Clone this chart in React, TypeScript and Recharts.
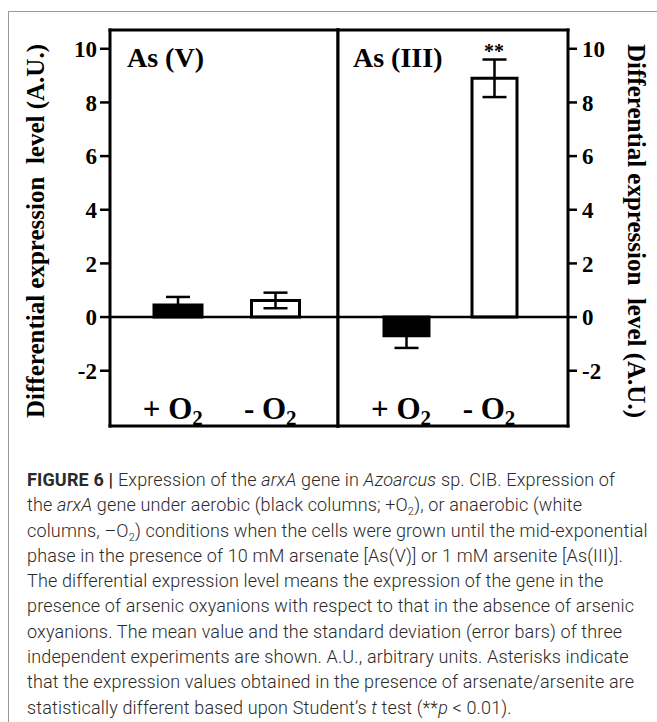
import React from 'react'
import {
  BarChart,
  Bar,
  Cell,
  ErrorBar,
  XAxis,
  YAxis,
  ReferenceLine,
  ReferenceDot,
} from 'recharts'

const categories = ['+ O', '- O']
const asVValues = [0.45, 0.62]
const asVErrors = [0.3, 0.29]
const asIIIValues = [-0.7, 8.9]
const asIIIErrors = [0.45, 0.7]
const barFills = ['#000', '#fff']
const yTicks = [-2, 0, 2, 4, 6, 8, 10]
const yDomain = [-4.06, 10.7]
const yTitle = 'Differential expression\u00a0\u00a0level (A.U.)'

const sub = (k: string) => (
  <span key={k} style={{ fontSize: 11, position: 'relative', top: 4, lineHeight: 0 }}>2</span>
)

const captionLines = [
  [<b key="f" style={{ fontWeight: 700 }}>FIGURE 6 | </b>, 'Expression of the ', <i key="a">arxA</i>, ' gene in ', <i key="b">Azoarcus</i>, ' sp. CIB. Expression of'],
  ['the ', <i key="a">arxA</i>, ' gene under aerobic (black columns; +O', sub('s'), '), or anaerobic (white'],
  ['columns, \u2013O', sub('s'), ') conditions when the cells were grown until the mid-exponential'],
  ['phase in the presence of 10 mM arsenate [As(V)] or 1 mM arsenite [As(III)].'],
  ['The differential expression level means the expression of the gene in the'],
  ['presence of arsenic oxyanions with respect to that in the absence of arsenic'],
  ['oxyanions. The mean value and the standard deviation (error bars) of three'],
  ['independent experiments are shown. A.U., arbitrary units. Asterisks indicate'],
  ['that the expression values obtained in the presence of arsenate/arsenite are'],
  ['statistically different based upon Student\u2019s ', <i key="t">t</i>, ' test (**', <i key="p">p</i>, ' < 0.01).'],
]

const serif = "'Liberation Serif', 'Times New Roman', serif"
const frame = { stroke: '#000', strokeWidth: 3, strokeLinecap: 'square' as const }

const asV = categories.map((name, i) => ({ name, value: asVValues[i], err: asVErrors[i] }))
const asIII = categories.map((name, i) => ({ name, value: asIIIValues[i], err: asIIIErrors[i] }))

function CondTick({ x, payload }: any) {
  return (
    <text x={x - 5} y={419} textAnchor="middle" fontFamily={serif} fontWeight="bold" fontSize={31} fill="#000">
      {payload.value}
      <tspan fontSize={21} dy={6}>2</tspan>
    </text>
  )
}

const tickStyle = { fontFamily: serif, fontWeight: 'bold', fontSize: 23, fill: '#000' }

function Panel({ data, width, margin, side, barSize, padding, title, stars }: any) {
  const left = side === 'left'
  return (
    <BarChart width={width} height={440} data={data} margin={margin} barCategoryGap={0}>
      <XAxis
        dataKey="name"
        axisLine={frame}
        tickLine={false}
        tickSize={0}
        tickMargin={0}
        height={1}
        padding={padding}
        tick={<CondTick />}
        interval={0}
      />
      <XAxis xAxisId="top" orientation="top" height={1} axisLine={frame} tick={false} tickLine={false} />
      <YAxis
        orientation={left ? 'left' : 'right'}
        width={left ? 110 : 89}
        domain={yDomain}
        ticks={yTicks}
        allowDataOverflow
        type="number"
        axisLine={frame}
        tickLine={{ stroke: '#000', strokeWidth: 2.5 }}
        tickSize={left ? 10 : 9}
        tickMargin={left ? 3 : 5}
        tick={tickStyle}
        interval={0}
        label={{
          content: (p: any) => {
            const vb = p.viewBox
            const cx = left ? vb.x + 35 : vb.x + 68
            const cy = vb.y + vb.height / 2 + 3
            return (
              <text
                x={cx}
                y={cy}
                textAnchor="middle"
                dominantBaseline="central"
                transform={`rotate(${left ? -90 : 90}, ${cx}, ${cy})`}
                fontFamily={serif}
                fontWeight="bold"
                fontSize={25}
                fill="#000"
              >
                {yTitle}
              </text>
            )
          },
        }}
      />
      <YAxis
        yAxisId="edge"
        orientation={left ? 'right' : 'left'}
        width={1}
        domain={[0, 1]}
        type="number"
        axisLine={frame}
        tick={false}
        tickLine={false}
      />
      <ReferenceLine y={0} stroke="#000" strokeWidth={2.5} />
      <Bar dataKey="value" barSize={barSize} stroke="#000" strokeWidth={3} isAnimationActive={false}>
        {data.map((d: any, i: number) => (
          <Cell key={d.name} fill={barFills[i]} />
        ))}
        <ErrorBar dataKey="err" direction="y" width={12} stroke="#000" strokeWidth={2.5} />
      </Bar>
      {stars && (
        <ReferenceDot
          x={stars.x}
          y={stars.y}
          r={0}
          fill="none"
          stroke="none"
          label={{ value: '**', position: 'top', offset: 2, fontFamily: serif, fontWeight: 'bold', fontSize: 20, fill: '#000' }}
        />
      )}
      <text x={left ? 127 : 23} y={67} fontFamily={serif} fontWeight="bold" fontSize={28} fill="#000">
        {title}
      </text>
    </BarChart>
  )
}

export default function App() {
  return (
    <div style={{ position: 'absolute', left: 0, top: 0, width: 657, height: 722, background: '#fff', overflow: 'hidden' }}>
      <div
        style={{
          position: 'absolute',
          left: 8,
          top: 11,
          width: 660,
          height: 720,
          borderLeft: '1px solid #999',
          borderTop: '1px solid #999',
        }}
      />
      <div style={{ position: 'absolute', left: 0, top: 0 }}>
        <Panel
          data={asV}
          width={339}
          margin={{ top: 29, right: 0, bottom: 13, left: 0 }}
          side="left"
          barSize={48}
          padding={{ left: 19, right: 14 }}
          title="As (V)"
        />
      </div>
      <div style={{ position: 'absolute', left: 330, top: 0 }}>
        <Panel
          data={asIII}
          width={327}
          margin={{ top: 29, right: 0, bottom: 13, left: 7 }}
          side="right"
          barSize={45}
          padding={{ left: 24, right: 30 }}
          title="As (III)"
          stars={{ x: categories[1], y: asIIIValues[1] + asIIIErrors[1] }}
        />
      </div>
      <div
        style={{
          position: 'absolute',
          left: 27,
          top: 467,
          fontFamily: 'Roboto, sans-serif',
          fontWeight: 300,
          fontSize: 18,
          letterSpacing: 0.15,
          lineHeight: '25.3px',
          color: '#2a2a2a',
          whiteSpace: 'nowrap',
        }}
      >
        {captionLines.map((line, i) => (
          <div key={i} style={{ height: 25.3 }}>{line}</div>
        ))}
      </div>
    </div>
  )
}
